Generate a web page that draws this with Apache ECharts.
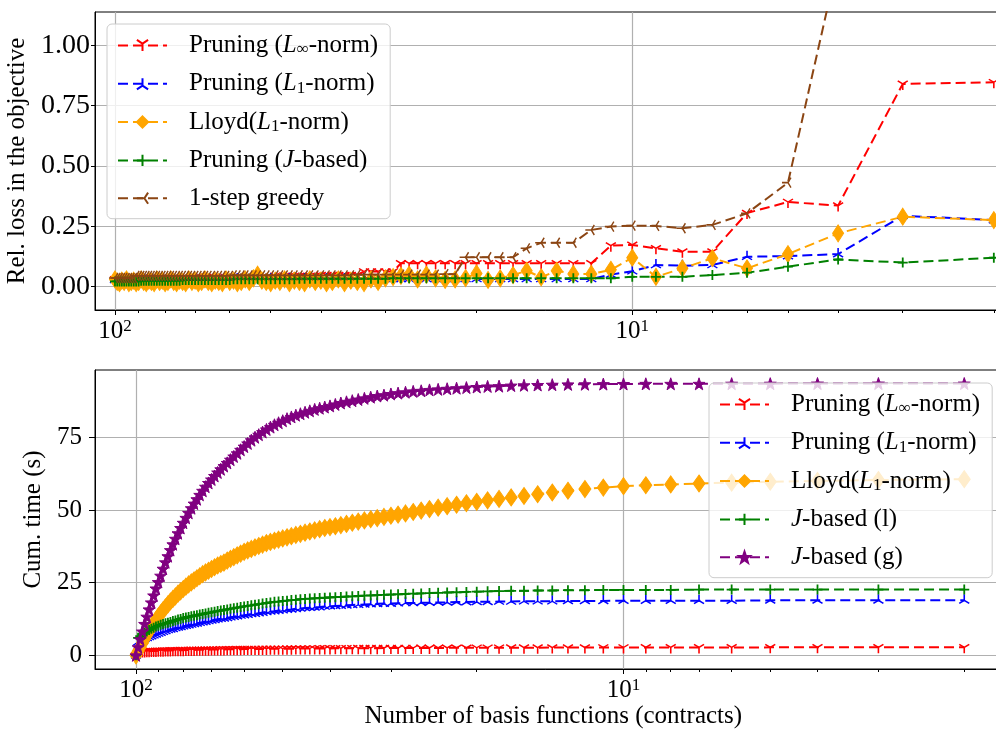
<!DOCTYPE html>
<html><head><meta charset="utf-8">
<script src="https://cdn.jsdelivr.net/npm/echarts@6/dist/echarts.min.js"></script>
<style>html,body{margin:0;padding:0;background:#fff}#c{width:996px;height:731px}</style>
</head><body><div id="c"></div>
<script>
// ---------------- data ----------------
const nBasis = [100,99,98,97,96,95,94,93,92,91,
  90,89,88,87,86,85,84,83,82,81,
  80,79,78,77,76,75,74,73,72,71,
  70,69,68,67,66,65,64,63,62,61,
  60,59,58,57,56,55,54,53,52,51,
  50,49,48,47,46,45,44,43,42,41,
  40,39,38,37,36,35,34,33,32,31,
  30,29,28,27,26,25,24,23,22,21,
  20,19,18,17,16,15,14,13,12,11,
  10,9,8,7,6,5,4,3,2];

// top panel: relative loss in the objective
const lossLinf = [0.03,0.03,0.03,0.03,0.03,0.03,0.03,0.03,0.03,0.03,
  0.035,0.035,0.035,0.035,0.035,0.035,0.035,0.035,0.035,0.035,
  0.035,0.035,0.035,0.035,0.035,0.035,0.035,0.035,0.035,0.035,
  0.04,0.04,0.04,0.04,0.04,0.04,0.04,0.04,0.04,0.04,
  0.04,0.04,0.04,0.04,0.04,0.04,0.04,0.04,0.04,0.04,
  0.04,0.045,0.045,0.045,0.045,0.045,0.045,0.045,0.045,0.045,
  0.048,0.048,0.048,0.048,0.048,0.048,0.048,0.063,0.063,0.063,
  0.063,0.063,0.097,0.097,0.097,0.097,0.097,0.097,0.097,0.097,
  0.097,0.097,0.097,0.097,0.097,0.097,0.097,0.097,0.097,0.170,
  0.173,0.159,0.145,0.145,0.305,0.351,0.336,0.840,0.847];
const lossL1 = [0.028,0.028,0.028,0.028,0.028,0.028,0.028,0.028,0.028,0.028,
  0.028,0.028,0.028,0.028,0.028,0.028,0.028,0.028,0.028,0.028,
  0.028,0.028,0.028,0.028,0.028,0.028,0.028,0.028,0.028,0.028,
  0.028,0.028,0.028,0.028,0.028,0.028,0.028,0.028,0.028,0.028,
  0.028,0.032,0.032,0.032,0.032,0.032,0.032,0.032,0.032,0.032,
  0.032,0.032,0.032,0.032,0.032,0.032,0.032,0.032,0.032,0.032,
  0.032,0.032,0.032,0.032,0.032,0.032,0.032,0.032,0.032,0.032,
  0.032,0.032,0.032,0.032,0.032,0.032,0.032,0.032,0.032,0.032,
  0.032,0.032,0.032,0.032,0.032,0.032,0.032,0.032,0.032,0.050,
  0.064,0.090,0.087,0.090,0.124,0.127,0.135,0.294,0.276];
const lossLloyd = [0.03,0.02,0.015,0.025,0.02,0.03,0.015,0.02,0.025,0.015,
  0.02,0.03,0.02,0.015,0.025,0.02,0.015,0.03,0.02,0.025,
  0.015,0.02,0.03,0.02,0.015,0.025,0.02,0.015,0.03,0.02,
  0.025,0.015,0.02,0.03,0.02,0.015,0.025,0.02,0.015,0.03,
  0.02,0.025,0.015,0.02,0.03,0.02,0.035,0.05,0.025,0.02,
  0.015,0.025,0.02,0.03,0.015,0.025,0.02,0.015,0.03,0.02,
  0.025,0.015,0.02,0.03,0.015,0.025,0.02,0.015,0.03,0.02,
  0.035,0.04,0.045,0.05,0.03,0.05,0.035,0.028,0.03,0.036,
  0.055,0.028,0.035,0.048,0.066,0.039,0.066,0.053,0.053,0.070,
  0.120,0.041,0.076,0.118,0.076,0.135,0.221,0.290,0.276];
const lossJ = [0.022,0.022,0.022,0.022,0.022,0.022,0.022,0.022,0.022,0.022,
  0.022,0.025,0.025,0.025,0.025,0.025,0.025,0.025,0.025,0.025,
  0.025,0.025,0.025,0.025,0.025,0.025,0.028,0.028,0.028,0.028,
  0.028,0.028,0.028,0.028,0.028,0.028,0.028,0.028,0.028,0.028,
  0.028,0.031,0.031,0.031,0.031,0.031,0.031,0.031,0.031,0.031,
  0.031,0.031,0.031,0.031,0.031,0.031,0.033,0.033,0.033,0.033,
  0.033,0.033,0.033,0.033,0.033,0.033,0.033,0.033,0.033,0.033,
  0.033,0.035,0.035,0.035,0.035,0.035,0.035,0.035,0.035,0.035,
  0.035,0.035,0.035,0.035,0.035,0.035,0.035,0.035,0.035,0.035,
  0.041,0.041,0.041,0.048,0.058,0.083,0.113,0.100,0.120];
const lossGreedy = [0.036,0.036,0.036,0.036,0.036,0.036,0.036,0.036,0.036,0.045,
  0.045,0.045,0.045,0.045,0.045,0.045,0.045,0.045,0.045,0.045,
  0.045,0.045,0.045,0.045,0.045,0.045,0.045,0.045,0.045,0.045,
  0.045,0.045,0.045,0.045,0.045,0.045,0.045,0.045,0.045,0.045,
  0.045,0.047,0.047,0.047,0.047,0.047,0.047,0.047,0.047,0.047,
  0.047,0.047,0.047,0.047,0.047,0.047,0.047,0.047,0.047,0.047,
  0.047,0.047,0.047,0.047,0.047,0.047,0.05,0.05,0.05,0.05,
  0.05,0.05,0.05,0.05,0.05,0.05,0.05,0.052,0.052,0.122,
  0.122,0.122,0.122,0.122,0.159,0.182,0.182,0.182,0.235,0.249,
  0.253,0.252,0.242,0.256,0.304,0.431,1.35,2.2,3.0];

// bottom panel: cumulative time (s)
const timeLinf = [0,1.20,1.25,1.30,1.34,1.38,1.42,1.45,1.48,1.51,
  1.54,1.57,1.60,1.62,1.65,1.67,1.70,1.72,1.74,1.76,
  1.78,1.80,1.82,1.84,1.86,1.88,1.90,1.92,1.94,1.95,
  1.97,1.99,2.00,2.02,2.04,2.05,2.07,2.08,2.10,2.11,
  2.13,2.14,2.16,2.17,2.18,2.20,2.21,2.22,2.24,2.25,
  2.26,2.28,2.29,2.30,2.31,2.33,2.34,2.35,2.36,2.37,
  2.38,2.40,2.41,2.42,2.43,2.44,2.45,2.46,2.47,2.48,
  2.49,2.50,2.51,2.52,2.53,2.54,2.55,2.56,2.57,2.58,
  2.59,2.60,2.61,2.62,2.63,2.64,2.65,2.66,2.67,2.68,
  2.69,2.70,2.71,2.72,2.72,2.73,2.74,2.74,2.75];
const timeL1 = [0,4.5,4.9,5.3,5.7,6.0,6.3,6.6,6.9,7.2,
  7.5,7.8,8.1,8.4,8.7,8.9,9.1,9.4,9.6,9.8,
  10.0,10.2,10.4,10.6,10.8,11.0,11.2,11.4,11.6,11.8,
  12.0,12.2,12.4,12.6,12.7,12.9,13.1,13.3,13.5,13.7,
  13.8,14.0,14.2,14.3,14.5,14.7,14.9,15.1,15.2,15.4,
  15.5,15.7,15.8,16.0,16.1,16.3,16.4,16.5,16.6,16.8,
  16.9,17.0,17.1,17.2,17.3,17.4,17.5,17.6,17.7,17.8,
  17.8,17.9,18.0,18.0,18.1,18.1,18.2,18.2,18.3,18.3,
  18.4,18.4,18.5,18.5,18.6,18.6,18.6,18.7,18.7,18.7,
  18.8,18.8,18.8,18.8,18.8,18.9,18.9,18.9,18.9];
const timeLloyd = [0,1.4,2.8,4.2,5.6,7.0,8.3,9.6,10.9,12.1,
  13.3,14.4,15.5,16.5,17.5,18.5,19.4,20.3,21.2,22.0,
  22.8,23.6,24.4,25.1,25.8,26.5,27.2,27.9,28.5,29.1,
  29.7,30.3,30.9,31.4,31.9,32.6,33.2,33.8,34.4,35.0,
  35.6,36.1,36.6,37.1,37.6,38.1,38.6,39.0,39.4,39.8,
  40.2,40.6,41.0,41.4,41.8,42.2,42.6,43.0,43.4,43.8,
  44.1,44.4,44.8,45.2,45.6,46.0,46.4,46.8,47.2,47.6,
  48.0,48.4,48.8,49.3,49.8,50.3,50.8,51.3,51.8,52.3,
  52.8,53.3,53.8,54.3,54.8,55.4,56.0,56.6,57.2,57.7,
  58.2,58.5,58.8,59.1,59.4,59.7,60.0,60.3,60.6];
const timeJl = [0,6.0,6.6,7.2,7.7,8.2,8.7,9.1,9.5,9.9,
  10.2,10.5,10.8,11.0,11.2,11.5,11.8,12.0,12.3,12.5,
  12.8,13.0,13.2,13.4,13.6,13.8,14.0,14.2,14.4,14.6,
  14.8,15.0,15.2,15.4,15.6,15.8,16.0,16.2,16.4,16.6,
  16.8,17.0,17.2,17.4,17.6,17.8,18.0,18.2,18.4,18.5,
  18.7,18.8,19.0,19.1,19.3,19.4,19.5,19.6,19.7,19.8,
  19.9,20.0,20.1,20.2,20.3,20.4,20.5,20.6,20.7,20.8,
  20.9,21.0,21.1,21.2,21.3,21.4,21.5,21.6,21.7,21.8,
  21.9,22.0,22.1,22.2,22.2,22.3,22.3,22.4,22.4,22.5,
  22.5,22.5,22.5,22.6,22.6,22.6,22.6,22.6,22.6];
const timeJg = [0,2.8,5.5,8.2,10.8,13.3,15.8,18.2,20.6,23.0,
  25.2,27.4,29.8,32.0,34.1,36.2,38.2,40.1,42.0,43.8,
  45.6,47.3,49.0,50.6,52.2,53.7,55.2,56.6,58.0,59.3,
  60.5,61.7,62.9,64.0,65.1,66.2,67.3,68.4,69.5,70.7,
  71.8,72.9,74.0,75.0,75.9,76.8,77.7,78.5,79.3,80.0,
  80.7,81.4,82.0,82.6,83.1,83.6,84.1,84.6,85.0,85.4,
  85.8,86.3,86.8,87.2,87.6,88.0,88.4,88.8,89.2,89.5,
  89.9,90.2,90.5,90.8,91.0,91.3,91.5,91.7,91.9,92.1,
  92.3,92.5,92.6,92.8,92.9,93.0,93.1,93.2,93.25,93.3,
  93.35,93.4,93.4,93.4,93.45,93.45,93.5,93.5,93.5];

// tick labels
const xMajorTicks = [10, 100];
const xMinorTicks = [2,3,4,5,6,7,8,9,20,30,40,50,60,70,80,90];
const topYTicks = [0, 0.25, 0.5, 0.75, 1.0];
const bottomYTicks = [0, 25, 50, 75];

const topNames = ['Pruning (L∞-norm)','Pruning (L1-norm)','Lloyd(L1-norm)','Pruning (J-based)','1-step greedy'];
const bottomNames = ['Pruning (L∞-norm)','Pruning (L1-norm)','Lloyd(L1-norm)','J-based (l)','J-based (g)'];

// ---------------- styling ----------------
const F = '"Liberation Serif","Times New Roman","DejaVu Serif",serif';
const FS = 25;
const C = {red:'#ff0000', blue:'#0000ff', orange:'#ffa500', green:'#008000', brown:'#8b4513', purple:'#800080'};
const SYM = {
  triDown: 'path://M0,0L0,10M0,0L-8.66,-5M0,0L8.66,-5',
  triUp: 'path://M0,0L0,-10M0,0L-8.66,5M0,0L8.66,5',
  triLeft: 'path://M0,0L-10,0M0,0L5,-8.66M0,0L5,8.66',
  plus: 'path://M-5,0L5,0M0,-5L0,5',
  diamond: 'path://M0,-10L6,0L0,10L-6,0Z',
  star: 'path://M0,-10L2.35,-3.24L9.51,-3.09L3.8,1.24L5.88,8.09L0,4L-5.88,8.09L-3.8,1.24L-9.51,-3.09L-2.35,-3.24Z'
};

function mk(name, xi, yi, vals, color, symbol, size, offset, bw) {
  return {
    type: 'line', name: name, xAxisIndex: xi, yAxisIndex: yi,
    data: nBasis.map((n, i) => [n, vals[i]]),
    symbol: symbol, symbolSize: size, symbolOffset: offset || [0, 0],
    showSymbol: true, showAllSymbol: true, clip: true,
    lineStyle: {color: color, width: 2, type: [10, 5]},
    itemStyle: {color: color, borderColor: color, borderWidth: bw},
    emphasis: {disabled: true}, animation: false
  };
}

const legendText = {
  'Pruning (L∞-norm)': '{g| }{t|Pruning (}{i|L}{s|∞}{t|-norm)}',
  'Pruning (L1-norm)': '{g| }{t|Pruning (}{i|L}{s|1}{t|-norm)}',
  'Lloyd(L1-norm)': '{g| }{t|Lloyd(}{i|L}{s|1}{t|-norm)}',
  'Pruning (J-based)': '{g| }{t|Pruning (}{i|J}{t|-based)}',
  '1-step greedy': '{g| }{t|1-step greedy}',
  'J-based (l)': '{g| }{i|J}{t|-based (l)}',
  'J-based (g)': '{g| }{i|J}{t|-based (g)}'
};
const legendRich = {
  g: {width: 17},
  t: {fontFamily: F, fontSize: FS, color: '#000'},
  i: {fontFamily: F, fontSize: FS, fontStyle: 'italic', color: '#000'},
  s: {fontFamily: F, fontSize: 17, padding: [9, 0, 0, 0], color: '#000'}
};
function legendCfg(names, left, top) {
  return {
    data: names, orient: 'vertical', left: left, top: top,
    padding: [9, 12, 8, 10], itemWidth: 49, itemHeight: 14, itemGap: 12.8,
    backgroundColor: 'rgba(255,255,255,0.8)', borderColor: '#cccccc', borderWidth: 1, borderRadius: 5,
    selectedMode: false,
    formatter: name => legendText[name],
    textStyle: {fontFamily: F, fontSize: FS, color: '#000', rich: legendRich}
  };
}

const xRich = {
  b: {fontFamily: F, fontSize: FS, color: '#000'},
  p: {fontFamily: F, fontSize: 17, color: '#000', padding: [0, 0, 10, 0]}
};
function xMajor(gi, min, max, extra) {
  return Object.assign({
    gridIndex: gi, type: 'log', logBase: 10, inverse: true, min: min, max: max, position: 'bottom',
    axisLine: {show: true, onZero: false, lineStyle: {color: '#000', width: 1}},
    axisTick: {show: true, length: 5, customValues: xMajorTicks, lineStyle: {color: '#000', width: 1}},
    axisLabel: {show: true, customValues: xMajorTicks, margin: 8,
      formatter: v => '{b|10}{p|' + Math.round(Math.log10(v)) + '}', rich: xRich},
    splitLine: {show: true, lineStyle: {color: '#b0b0b0', width: 1.2}},
    minorTick: {show: false}, minorSplitLine: {show: false}
  }, extra || {});
}
function xMinor(gi, min, max) {
  return {
    gridIndex: gi, type: 'log', logBase: 10, inverse: true, min: min, max: max, position: 'bottom',
    axisLine: {show: false, onZero: false},
    axisTick: {show: true, length: 3, customValues: xMinorTicks, lineStyle: {color: '#000', width: 1}},
    axisLabel: {show: false}, splitLine: {show: false}
  };
}
function yAx(gi, min, max, ticks, fmt, name, nameGap, labelMargin, tickLen, labelSize) {
  return {
    gridIndex: gi, type: 'value', min: min, max: max,
    axisLine: {show: true, onZero: false, lineStyle: {color: '#000', width: 1}},
    axisTick: {show: true, length: tickLen, customValues: ticks, lineStyle: {color: '#000', width: 1}},
    axisLabel: {show: true, customValues: ticks, formatter: fmt, margin: labelMargin,
      fontFamily: F, fontSize: labelSize, color: '#000'},
    splitLine: {show: true, lineStyle: {color: '#b0b0b0', width: 1.2}},
    name: name, nameLocation: 'middle', nameRotate: 90, nameGap: nameGap,
    nameTextStyle: {fontFamily: F, fontSize: FS, color: '#000'}
  };
}

const chart = echarts.init(document.getElementById('c'), null, {renderer: 'canvas'});
chart.setOption({
  animation: false,
  backgroundColor: '#ffffff',
  grid: [
    {left: 95, top: 12, width: 922.5, height: 298, show: true, borderColor: '#000', borderWidth: 1,
     backgroundColor: 'transparent', containLabel: false, outerBoundsMode: 'none'},
    {left: 95, top: 370, width: 916.5, height: 299, show: true, borderColor: '#000', borderWidth: 1,
     backgroundColor: 'transparent', containLabel: false, outerBoundsMode: 'none'}
  ],
  xAxis: [
    xMajor(0, 1.8, 109.3),
    xMinor(0, 1.8, 109.3),
    xMajor(1, 1.6, 121.36, {name: 'Number of basis functions (contracts)', nameLocation: 'middle', nameGap: 34,
      nameTextStyle: {fontFamily: F, fontSize: FS, color: '#000'}}),
    xMinor(1, 1.6, 121.36)
  ],
  yAxis: [
    yAx(0, -0.0965, 1.138, topYTicks, v => v.toFixed(2), 'Rel. loss in the objective', 62, 5, 4, 28),
    yAx(1, -4.71, 98.15, bottomYTicks, v => String(v), 'Cum. time (s)', 35, 13, 6, 25)
  ],
  legend: [legendCfg(topNames, 107, 24), legendCfg(bottomNames, 709, 383)],
  series: [
    mk('Pruning (L∞-norm)', 0, 0, lossLinf, C.red, SYM.triDown, [10, 9], [0, 1.5], 1.5),
    mk('Pruning (L1-norm)', 0, 0, lossL1, C.blue, SYM.triUp, [10, 9], [0, -1.5], 1.5),
    mk('Lloyd(L1-norm)', 0, 0, lossLloyd, C.orange, SYM.diamond, [11, 17], [0, 0], 1),
    mk('Pruning (J-based)', 0, 0, lossJ, C.green, SYM.plus, [10, 10], [0, 0], 1.8),
    mk('1-step greedy', 0, 0, lossGreedy, C.brown, SYM.triLeft, [9, 10], [-1.5, 0], 1.5),
    mk('Pruning (L∞-norm)', 2, 1, timeLinf, C.red, SYM.triDown, [10, 9], [0, 1.5], 1.5),
    mk('Pruning (L1-norm)', 2, 1, timeL1, C.blue, SYM.triUp, [10, 9], [0, -1.5], 1.5),
    mk('Lloyd(L1-norm)', 2, 1, timeLloyd, C.orange, SYM.diamond, [12, 17], [0, 0], 1),
    mk('J-based (l)', 2, 1, timeJl, C.green, SYM.plus, [10, 10], [0, 0], 1.8),
    mk('J-based (g)', 2, 1, timeJg, C.purple, SYM.star, [12, 12], [0, 0], 1)
  ]
});
</script></body></html>
